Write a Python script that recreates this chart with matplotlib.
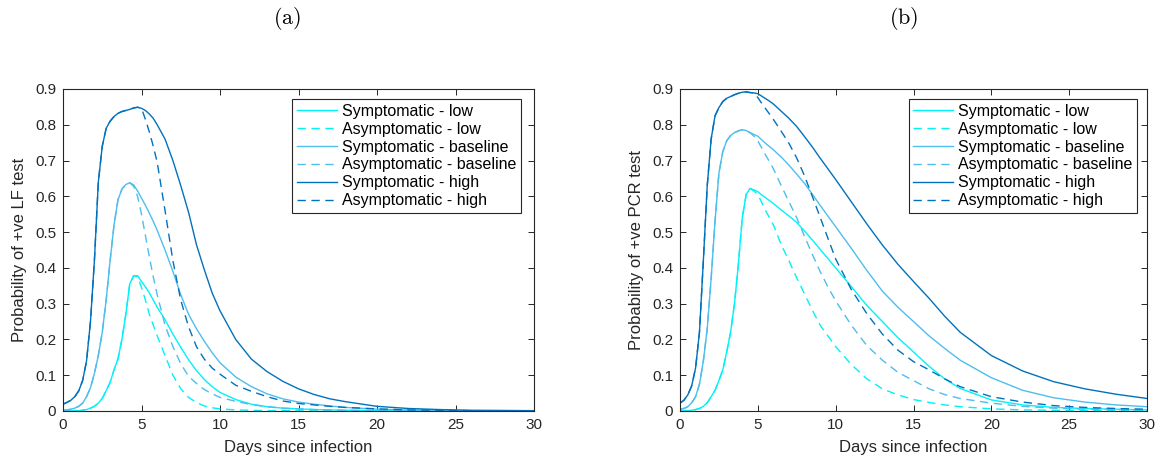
import numpy as np
import matplotlib
matplotlib.use('Agg')
import matplotlib.pyplot as plt

plt.rcParams['font.family'] = ['Liberation Sans', 'DejaVu Sans']
plt.rcParams['mathtext.fontset'] = 'cm'

# days since infection (shared sampling grid)
days = [0, 0.25, 0.5, 0.75, 1, 1.25, 1.5, 1.75, 2, 2.25, 2.5, 2.75, 3, 3.25, 3.5, 3.75,
        4, 4.25, 4.5, 4.75, 5, 5.25, 5.5, 5.75, 6,
        6.5, 7, 7.5, 8, 8.5, 9, 9.5, 10,
        11, 12, 13, 14, 15, 16, 17, 18,
        20, 22, 24, 26, 28, 30]

# (a) lateral flow test
lf_sym_low = [0, 0, 0, 0.001, 0.001, 0.002, 0.004, 0.008, 0.013, 0.022, 0.035, 0.057, 0.08,
              0.115, 0.145, 0.20, 0.27, 0.355, 0.378, 0.378, 0.362, 0.347, 0.33, 0.31, 0.29,
              0.255, 0.215, 0.178, 0.143, 0.113, 0.088, 0.068, 0.052,
              0.032, 0.019, 0.012, 0.008, 0.006, 0.004, 0.003, 0.002,
              0.001, 0.001, 0.0005, 0.0005, 0.0003, 0.0003]
lf_asym_low = [0, 0, 0, 0.001, 0.001, 0.002, 0.004, 0.008, 0.013, 0.022, 0.035, 0.057, 0.08,
               0.115, 0.145, 0.20, 0.27, 0.355, 0.378, 0.376, 0.345, 0.31, 0.27, 0.24, 0.21,
               0.155, 0.10, 0.062, 0.038, 0.024, 0.014, 0.009, 0.006,
               0.003, 0.002, 0.001, 0.001, 0.0005, 0.0003, 0.0002, 0.0002,
               0.0001, 0.0001, 0, 0, 0, 0]
lf_sym_base = [0.002, 0.003, 0.005, 0.008, 0.013, 0.022, 0.04, 0.065, 0.105, 0.155, 0.22,
               0.31, 0.42, 0.52, 0.59, 0.62, 0.633, 0.638, 0.632, 0.615, 0.595, 0.575, 0.553,
               0.53, 0.505,
               0.45, 0.39, 0.325, 0.27, 0.23, 0.195, 0.163, 0.135,
               0.095, 0.068, 0.048, 0.034, 0.025, 0.019, 0.014, 0.01,
               0.005, 0.003, 0.002, 0.001, 0.001, 0.0005]
lf_asym_base = [0.002, 0.003, 0.005, 0.008, 0.013, 0.022, 0.04, 0.065, 0.105, 0.155, 0.22,
                0.31, 0.42, 0.52, 0.59, 0.62, 0.633, 0.638, 0.628, 0.60, 0.55, 0.49, 0.43,
                0.375, 0.325,
                0.24, 0.18, 0.132, 0.097, 0.077, 0.06, 0.048, 0.038,
                0.027, 0.018, 0.012, 0.008, 0.006, 0.004, 0.003, 0.002,
                0.001, 0.001, 0.0005, 0.0003, 0.0002, 0.0001]
lf_sym_high = [0.019, 0.024, 0.03, 0.04, 0.056, 0.085, 0.14, 0.25, 0.42, 0.64, 0.74, 0.79,
               0.81, 0.823, 0.832, 0.837, 0.84, 0.843, 0.847, 0.849, 0.846, 0.84, 0.83, 0.818,
               0.80,
               0.76, 0.70, 0.63, 0.555, 0.465, 0.395, 0.33, 0.28,
               0.20, 0.145, 0.11, 0.083, 0.062, 0.046, 0.034, 0.026,
               0.013, 0.007, 0.004, 0.002, 0.0015, 0.001]
lf_asym_high = [0.019, 0.024, 0.03, 0.04, 0.056, 0.085, 0.14, 0.25, 0.42, 0.64, 0.74, 0.79,
                0.81, 0.823, 0.832, 0.837, 0.84, 0.843, 0.847, 0.849, 0.846, 0.815, 0.78,
                0.74, 0.695,
                0.56, 0.42, 0.31, 0.235, 0.18, 0.145, 0.12, 0.103,
                0.072, 0.055, 0.04, 0.028, 0.021, 0.017, 0.013, 0.01,
                0.006, 0.003, 0.002, 0.001, 0.0005, 0.0003]

# (b) PCR test
pcr_sym_low = [0, 0, 0.001, 0.002, 0.004, 0.007, 0.013, 0.023, 0.04, 0.058, 0.085, 0.115,
               0.165, 0.22, 0.30, 0.41, 0.54, 0.605, 0.622, 0.618, 0.613, 0.604, 0.596, 0.588,
               0.58,
               0.562, 0.545, 0.527, 0.503, 0.478, 0.452, 0.426, 0.40,
               0.348, 0.295, 0.25, 0.205, 0.165, 0.125, 0.09, 0.063,
               0.031, 0.017, 0.01, 0.007, 0.005, 0.003]
pcr_asym_low = [0, 0, 0.001, 0.002, 0.004, 0.007, 0.013, 0.023, 0.04, 0.058, 0.085, 0.115,
                0.165, 0.22, 0.30, 0.41, 0.54, 0.605, 0.622, 0.615, 0.605, 0.583, 0.56, 0.54,
                0.52,
                0.465, 0.42, 0.372, 0.327, 0.282, 0.24, 0.21, 0.18,
                0.13, 0.09, 0.062, 0.045, 0.032, 0.024, 0.017, 0.012,
                0.006, 0.003, 0.002, 0.001, 0.001, 0.001]
pcr_sym_base = [0.005, 0.007, 0.012, 0.023, 0.04, 0.075, 0.14, 0.23, 0.37, 0.53, 0.665, 0.725,
                0.755, 0.77, 0.778, 0.783, 0.786, 0.784, 0.778, 0.773, 0.768, 0.758, 0.748,
                0.739, 0.73,
                0.71, 0.687, 0.662, 0.636, 0.606, 0.575, 0.545, 0.515,
                0.455, 0.393, 0.335, 0.29, 0.25, 0.21, 0.175, 0.142,
                0.093, 0.058, 0.037, 0.025, 0.017, 0.012]
pcr_asym_base = [0.005, 0.007, 0.012, 0.023, 0.04, 0.075, 0.14, 0.23, 0.37, 0.53, 0.665, 0.725,
                 0.755, 0.77, 0.778, 0.783, 0.786, 0.784, 0.778, 0.768, 0.755, 0.735, 0.715,
                 0.697, 0.677,
                 0.63, 0.585, 0.54, 0.488, 0.438, 0.39, 0.347, 0.308,
                 0.24, 0.183, 0.142, 0.108, 0.085, 0.062, 0.046, 0.035,
                 0.022, 0.013, 0.008, 0.005, 0.004, 0.003]
pcr_sym_high = [0.022, 0.03, 0.045, 0.07, 0.12, 0.22, 0.42, 0.63, 0.76, 0.825, 0.848, 0.865,
                0.874, 0.879, 0.884, 0.888, 0.891, 0.892, 0.89, 0.889, 0.887, 0.88, 0.873,
                0.866, 0.858,
                0.838, 0.818, 0.795, 0.767, 0.738, 0.707, 0.677, 0.647,
                0.585, 0.523, 0.464, 0.41, 0.362, 0.315, 0.265, 0.22,
                0.155, 0.112, 0.082, 0.062, 0.047, 0.035]
pcr_asym_high = [0.022, 0.03, 0.045, 0.07, 0.12, 0.22, 0.42, 0.63, 0.76, 0.825, 0.848, 0.865,
                 0.874, 0.879, 0.884, 0.888, 0.891, 0.892, 0.89, 0.889, 0.876, 0.86, 0.845,
                 0.83, 0.815,
                 0.782, 0.748, 0.707, 0.657, 0.60, 0.542, 0.483, 0.425,
                 0.34, 0.272, 0.215, 0.17, 0.138, 0.115, 0.09, 0.068,
                 0.04, 0.025, 0.015, 0.01, 0.007, 0.005]

labels = ['Symptomatic - low', 'Asymptomatic - low', 'Symptomatic - baseline',
          'Asymptomatic - baseline', 'Symptomatic - high', 'Asymptomatic - high']
colors = ['#00F2F8', '#00F2F8', '#4DBEEE', '#4DBEEE', '#0072BD', '#0072BD']
styles = ['-', '--', '-', '--', '-', '--']

panels = [
    ('Probability of +ve LF test', [lf_sym_low, lf_asym_low, lf_sym_base, lf_asym_base,
                                    lf_sym_high, lf_asym_high], 63, 534, 0.972, '(a)', 287),
    ('Probability of +ve PCR test', [pcr_sym_low, pcr_asym_low, pcr_sym_base, pcr_asym_base,
                                     pcr_sym_high, pcr_asym_high], 680, 1147, 0.979, '(b)', 904),
]

W, H = 1162, 463
fig = plt.figure(figsize=(W / 100, H / 100), dpi=100)
axcol = '#262626'

for ylab, series, x0, x1, legx, tag, tagx in panels:
    ax = fig.add_axes([x0 / W, (H - 411) / H, (x1 - x0) / W, (411 - 89) / H])
    for ys, lab, c, ls in zip(series, labels, colors, styles):
        if ls == '--':
            ax.plot(days, ys, color=c, lw=1.0, dashes=(6, 4), label=lab)
        else:
            ax.plot(days, ys, color=c, lw=1.0, label=lab)
    ax.set_xlim(0, 30)
    ax.set_ylim(0, 0.9)
    ax.set_xticks(np.arange(0, 31, 5))
    yt = np.round(np.arange(0, 0.91, 0.1), 1)
    ax.set_yticks(yt)
    ax.set_yticklabels(['0'] + ['%.1f' % v for v in yt[1:]])
    ax.tick_params(direction='in', length=4, width=0.7, top=True, right=True,
                   labelsize=11, colors=axcol, pad=5)
    for s in ax.spines.values():
        s.set_color(axcol)
        s.set_linewidth(0.8)
    ax.set_xlabel('Days since infection', fontsize=12, color=axcol, labelpad=6)
    ax.set_ylabel(ylab, fontsize=12, color=axcol, labelpad=6)
    leg = ax.legend(loc='upper right', bbox_to_anchor=(legx, 0.969), borderaxespad=0,
                    fontsize=11.5, fancybox=False, framealpha=1, edgecolor=axcol,
                    handlelength=2.5, handletextpad=0.3, labelspacing=0.18,
                    borderpad=0.3)
    leg.get_frame().set_linewidth(0.8)
    fig.text(tagx / W, 1 - 18 / H, r'$\mathrm{' + tag + '}$', ha='center', va='center',
             fontsize=16)

fig.savefig('out.png', dpi=100)
